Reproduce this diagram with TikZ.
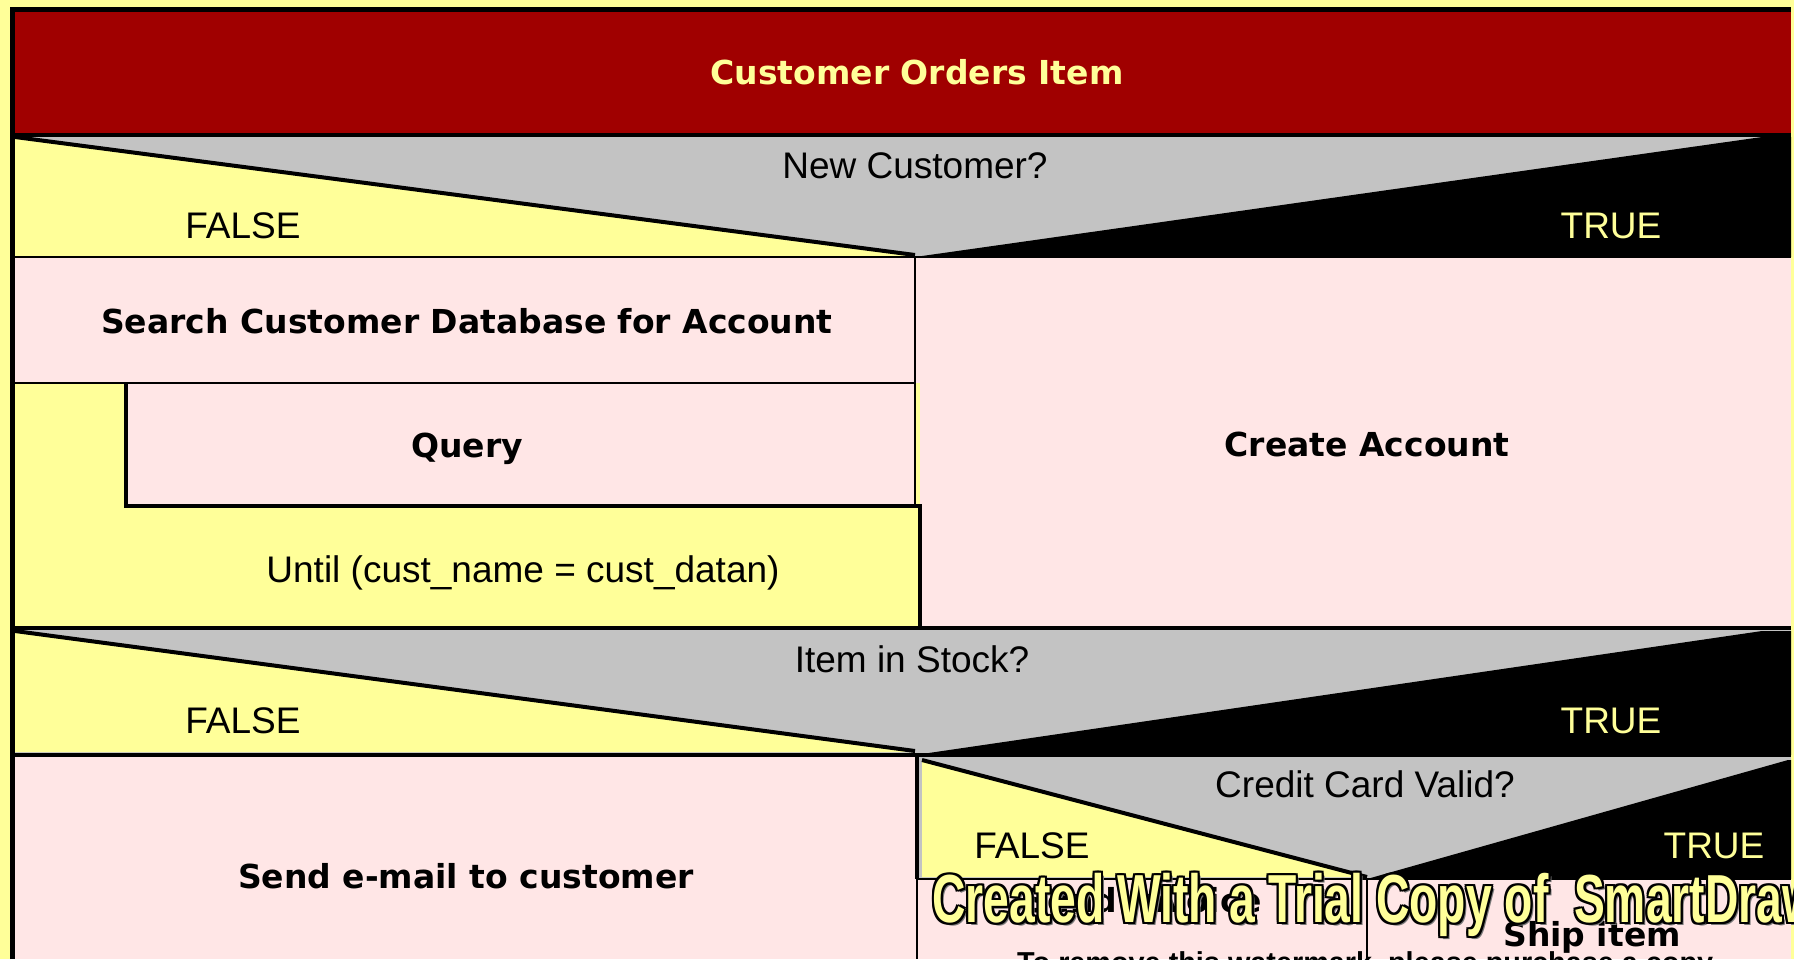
\documentclass[tikz,border=0pt]{standalone}
\usepackage{fontspec}
\setmainfont{Liberation Sans}
\newfontfamily\boldface{DejaVu Sans}
\definecolor{nsyellow}{RGB}{255,255,153}
\definecolor{nsred}{RGB}{160,0,0}
\definecolor{nspink}{RGB}{255,230,230}
\definecolor{nsgray}{RGB}{195,195,195}
\definecolor{nsshadow}{RGB}{120,120,120}
\tikzset{
  stmt/.style={font=\boldface\bfseries\fontsize{33}{36}\selectfont, inner sep=0pt, anchor=base},
  cond/.style={font=\fontsize{37}{40}\selectfont, inner sep=0pt, anchor=base},
  thinrule/.style={line width=2.5pt, draw=black},
  thickrule/.style={line width=4.5pt, draw=black},
  slope/.style={line width=4pt, draw=black},
  wm/.style={font=\bfseries\fontsize{68}{70}\selectfont, inner sep=0pt, anchor=base west},
}
\newcommand{\wmline}{\scalebox{0.68}[1]{Created With a Trial Copy of\ \ SmartDraw}}
\begin{document}
\begin{tikzpicture}[x=1pt,y=-1pt]
\useasboundingbox (0,0) rectangle (1794,959);
\clip (0,0) rectangle (1794,959);
\fill[nsyellow] (0,0) rectangle (1794,959);

% title bar
\fill[nsred] (12,10) rectangle (1791,135);

% decision: new customer
\fill[nsgray] (15,135) rectangle (1791,257);
\fill[nsyellow] (15,138) -- (915,256) -- (15,256) -- cycle;
\fill[black] (1762,137) -- (1791,137) -- (1791,257) -- (915,257) -- cycle;

% right branch
\fill[nspink] (915,257) rectangle (1791,628);

% left branch: search and loop
\fill[nspink] (15,257) rectangle (915,383);
\fill[nsyellow] (15,383) rectangle (920,628);
\fill[nspink] (126,383) rectangle (915,506);

% decision: item in stock
\fill[nsgray] (15,628) rectangle (1791,755);
\fill[nsyellow] (15,632) -- (915,752) -- (15,752) -- cycle;
\fill[black] (1762,631) -- (1791,631) -- (1791,755) -- (915,755) -- cycle;
\fill[nspink] (15,755) rectangle (917,959);

% decision: credit card valid
\fill[nsgray] (917,755) rectangle (1791,879);
\fill[nsyellow] (922,761) -- (1367,877) -- (922,877) -- cycle;
\fill[black] (1788,760) -- (1791,760) -- (1791,879) -- (1367,879) -- cycle;
\fill[nspink] (917,879) rectangle (1791,959);

% rules
\draw[thickrule] (12,135) -- (1791,135);
\draw[slope] (15,137) -- (915,255);
\draw[thinrule] (15,257) -- (1791,257);
\draw[thinrule] (915,257) -- (915,506);
\draw[thinrule] (15,383) -- (915,383);
\draw[thickrule] (126,383) -- (126,506) -- (920,506) -- (920,628);
\draw[thickrule] (12,628) -- (1791,628);
\draw[slope] (15,631) -- (915,751);
\draw[thickrule] (12,755) -- (1791,755);
\draw[thickrule] (917,755) -- (917,879);
\draw[thinrule] (917,879) -- (917,959);
\draw[slope] (922,760) -- (1367,877);
\draw[thinrule] (917,879) -- (1791,879);
\draw[thinrule] (1367,879) -- (1367,959);

% outer frame
\draw[line width=5pt] (12.5,959) -- (12.5,9.5) -- (1791,9.5);

% labels
\node[stmt, text=nsyellow] (title) at (917,84) {Customer Orders Item};
\node[cond] (q1) at (915,178) {New Customer?};
\node[cond] (f1) at (243,238) {FALSE};
\node[cond, text=nsyellow] (t1) at (1611,238) {TRUE};
\node[stmt] (search) at (467,333) {Search Customer Database for Account};
\node[stmt] (query) at (467,457) {Query};
\node[cond] (until) at (523,582) {Until (cust\_name = cust\_datan)};
\node[stmt] (create) at (1367,456) {Create Account};
\node[cond] (q2) at (912,672) {Item in Stock?};
\node[cond] (f2) at (243,733) {FALSE};
\node[cond, text=nsyellow] (t2) at (1611,733) {TRUE};
\node[stmt] (email) at (466,888) {Send e-mail to customer};
\node[cond] (q3) at (1365,797) {Credit Card Valid?};
\node[cond] (f3) at (1032,858) {FALSE};
\node[cond, text=nsyellow] (t3) at (1714,858) {TRUE};
\node[stmt] (invoice) at (1143,912) {Send Invoice};
\node[stmt] (ship) at (1592,946) {Ship item};

% trial banner
\node[wm, text=nsshadow] (wmshadow) at (935,925) {\wmline};
\foreach \dx/\dy in {-2/-2,0/-2,2/-2,-2/0,2/0,-2/2,0/2,2/2}
  \node[wm, text=black] at (932+\dx,922+\dy) {\wmline};
\node[wm, text=nsyellow] (banner) at (932,922) {\wmline};
\node[inner sep=0pt, anchor=north west, font=\bfseries\fontsize{30}{32}\selectfont] (note) at (1017,951)
  {\resizebox{696pt}{!}{To remove this watermark, please purchase a copy}};
\end{tikzpicture}
\end{document}
